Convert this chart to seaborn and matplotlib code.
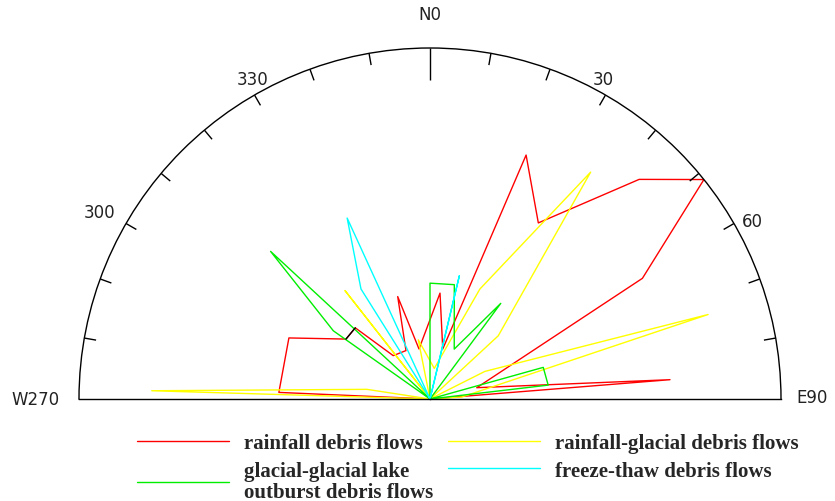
import numpy as np
import matplotlib
matplotlib.use('Agg')
import matplotlib.pyplot as plt
import seaborn as sns
from matplotlib.lines import Line2D

# Rose-diagram polylines: azimuth (deg, clockwise from N) and length
# (outer circle = 100). Zero-length points are the centre.
red_theta = [0, -87.5, -66.6, -54.5, -46.4, -40.3, -26.4, -17.5, -12.4, 5.4, 14.3,
             21.5, 31.6, 43.6, 51.3, 60.4, 76.4, 85.4, 85.4]
red_r = [0, 43.1, 43.8, 29.4, 29.4, 16.2, 15.4, 30.6, 14.6, 30.3, 14.7,
         74.7, 58.9, 86.4, 100.0, 69.6, 13.7, 68.6, 0]

yellow_theta = [-88.3, -88.3, -81.3, -81.3, -38.1, -38.1, -11.2, 8.0, 24.4, 35.3,
                47.2, 47.2, 63.3, 73.1, 86.4, 86.4]
yellow_r = [0, 79.3, 18.2, 0, 39.2, 0, 17.2, 8.8, 34.4, 79.2,
            26.5, 0, 17.5, 82.8, 9.1, 0]

green_theta = [-54.8, -54.8, -47.2, -47.2, 0.0, 12.0, 25.9, 36.5, 36.5, 74.4, 83.3, 83.3]
green_r = [0, 33.7, 61.9, 0, 33.0, 33.3, 15.8, 33.9, 0, 33.5, 33.9, 0]

cyan_theta = [-32.1, -32.1, -24.6, -24.6, 13.4, 13.4]
cyan_r = [0, 37.0, 56.7, 0, 36.1, 0]

series = ['rainfall debris flows', 'rainfall-glacial debris flows',
          'glacial-glacial lake\noutburst debris flows', 'freeze-thaw debris flows']
colors = ['#ff0000', '#ffff00', '#00ee00', '#00ffff']

angle_labels = ['N0', '30', '60', 'E90', '330', '300', 'W270']
angle_label_pos = [0, 28.4, 61.1, 89.7, -29.0, -60.5, -90.0]
angle_label_r = [109.7, 103.6, 104.8, 108.8, 104.2, 108.1, 112.5]
tick_angles = list(range(-80, 90, 10))

sns.set_style('white')

fig = plt.figure(figsize=(8.35, 5.02), dpi=100)
# polar axes keep a square box; the half disc sits in the middle of it
ax = fig.add_axes([79 / 835, 1 - 575.5 / 502, 702 / 835, 702 / 502], projection='polar')
ax.set_theta_zero_location('N')
ax.set_theta_direction(-1)
ax.set_thetamin(-90)
ax.set_thetamax(90)

data = [(red_theta, red_r), (yellow_theta, yellow_r), (green_theta, green_r), (cyan_theta, cyan_r)]
for (th, rr), c in zip(data, colors):
    sns.lineplot(x=np.deg2rad(th), y=rr, sort=False, estimator=None, color=c,
                 linewidth=1.0, ax=ax)

# short black piece on the red polyline
sns.lineplot(x=np.deg2rad(red_theta[3:5]), y=red_r[3:5], sort=False, estimator=None,
             color='black', linewidth=1.0, ax=ax)

# inward ticks on the rim every 10 degrees, longer one at north
for a in tick_angles:
    inner = 90.9 if a == 0 else 96.6
    ax.plot([np.deg2rad(a)] * 2, [inner, 100], color='black', linewidth=1.0,
            solid_capstyle='butt')

ax.set_rlim(0, 100)
ax.set_yticks([])
ax.set_xticks([])
ax.grid(False)
ax.set_xlabel('')
ax.set_ylabel('')
for s in ax.spines.values():
    s.set_color('black')
    s.set_linewidth(1.0)

for lab, a, rr in zip(angle_labels, angle_label_pos, angle_label_r):
    ax.text(np.deg2rad(a), rr, lab, ha='center', va='center', fontsize=12,
            color='#222222', clip_on=False)

handles = [Line2D([], [], color=c, linewidth=1.0) for c in colors]
order = [0, 2, 1, 3]
leg = fig.legend([handles[i] for i in order], [series[i] for i in order],
                 loc='upper left', bbox_to_anchor=(127 / 835, 1 - 424 / 502), ncol=2,
                 frameon=False, handlelength=4.4, handletextpad=0.72, columnspacing=0.7,
                 labelspacing=0.35, borderpad=0,
                 prop={'family': 'Liberation Serif', 'weight': 'bold', 'size': 15})
for t in leg.get_texts():
    t.set_linespacing(1.1)

fig.savefig('out.png', dpi=100)
